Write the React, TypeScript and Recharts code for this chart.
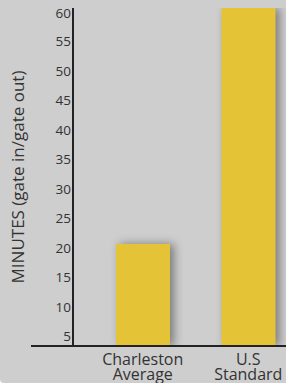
import React from 'react';
import { BarChart, Bar, XAxis, YAxis } from 'recharts';

const categories = ['Charleston\nAverage', 'U.S\nStandard'];
const minutes = [20, 60];
const yTicks = [5, 10, 15, 20, 25, 30, 35, 40, 45, 50, 55, 60];

const data = categories.map((name, i) => ({ name, minutes: minutes[i] }));

const FONT = '"Open Sans", "Noto Sans", sans-serif';
const INK = '#222';
const TEXT = '#333';

function YTick(props: any) {
  const { x, y, payload } = props;
  return (
    <text x={x} y={y + 4} textAnchor="end" dominantBaseline="central" fontSize={13.5} fontFamily={FONT} fill={TEXT}>
      {payload.value}
    </text>
  );
}

function XTick(props: any) {
  const { x, y, payload } = props;
  const lines = String(payload.value).split('\n');
  return (
    <text x={x} y={y} textAnchor="middle" fontSize={16} fontFamily={FONT} fill={TEXT}>
      {lines.map((line, i) => (
        <tspan key={i} x={x} dy={i === 0 ? 11 : 14.5}>
          {line}
        </tspan>
      ))}
    </text>
  );
}

function ShadowBar(props: any) {
  const { x, y, width, height, fill } = props;
  return (
    <rect
      x={x}
      y={y}
      width={width}
      height={height}
      fill={fill}
      style={{ filter: 'drop-shadow(4px 0px 5px rgba(0,0,0,0.4))' }}
    />
  );
}

export default function App() {
  return (
    <div
      style={{
        position: 'absolute',
        left: 0,
        top: 0,
        width: 286,
        height: 383,
        overflow: 'hidden',
        background: '#cecece',
        borderBottomLeftRadius: 4,
      }}
    >
      <BarChart
        width={301}
        height={383}
        data={data}
        margin={{ top: 8, right: 0, left: 31, bottom: 0 }}
      >
        <XAxis
          dataKey="name"
          height={37}
          padding={{ left: 17, right: 0 }}
          tickLine={false}
          tick={<XTick />}
          interval={0}
          axisLine={{ stroke: INK, strokeWidth: 2 }}
        />
        <YAxis
          width={42}
          domain={[2.7, 60]}
          ticks={yTicks}
          allowDataOverflow
          tickLine={false}
          tickSize={0}
          tickMargin={2}
          tick={<YTick />}
          axisLine={{ stroke: INK, strokeWidth: 2 }}
          label={{
            value: 'MINUTES (gate in/gate out)',
            angle: -90,
            position: 'insideLeft',
            offset: 0,
            dx: -13,
            dy: 0,
            style: { textAnchor: 'middle', fontSize: 17, fontFamily: FONT, fill: TEXT },
          }}
        />
        <Bar
          dataKey="minutes"
          fill="#e4c436"
          barSize={54}
          shape={<ShadowBar />}
          isAnimationActive={false}
        />
      </BarChart>
      {/* the baseline runs on past the value axis */}
      <div style={{ position: 'absolute', left: 31, top: 345, width: 43, height: 2, background: INK }} />
    </div>
  );
}
